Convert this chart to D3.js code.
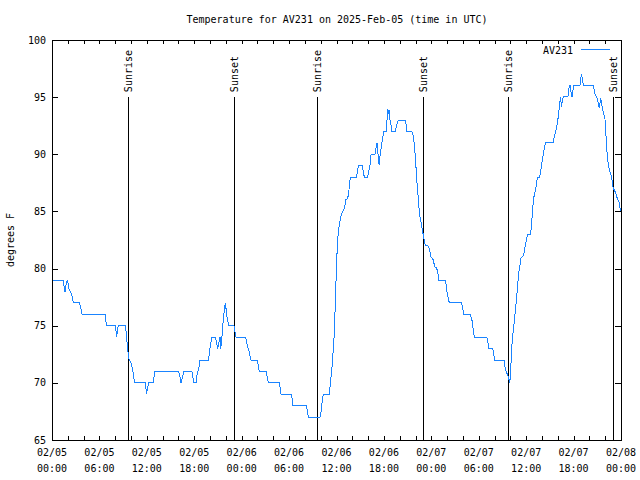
<!DOCTYPE html>
<html>
<head>
<meta charset="utf-8">
<script src="https://cdn.jsdelivr.net/npm/d3@7"></script>
<style>
  body { margin: 0; background: #fff; }
  svg text { font-family: "DejaVu Sans Mono", monospace; font-size: 10px; fill: #000; }
  svg line, svg rect, svg path { shape-rendering: crispEdges; }
</style>
</head>
<body>
<div id="vis"></div>
<script>
// hours since 2025-02-05 00:00 UTC
var hours = [
  0, 1.43, 1.5, 1.64, 1.7, 1.77, 1.94, 2.07, 2.19, 2.36, 2.49, 2.61, 2.7, 3.46, 3.63, 3.7, 3.8,
  6.71, 6.79, 6.92, 8.01, 8.1, 8.18, 8.27, 8.39, 9.28, 9.36, 9.49, 9.57, 9.66, 9.79, 9.95, 10.08,
  10.21, 10.33, 10.46, 11.81, 11.89, 11.98, 12.06, 12.23, 12.82, 12.91, 12.99, 16.03, 16.2, 16.32,
  16.53, 16.7, 17.71, 17.8, 17.97, 18.22, 18.31, 18.47, 18.64, 18.73, 19.78, 19.87, 19.99, 20.12,
  20.25, 20.67, 20.84, 20.96, 21.13, 21.26, 21.34, 21.47, 21.55, 21.68, 21.8, 21.93, 22.02, 22.1,
  22.22, 22.35, 23.03, 23.12, 23.29,
  24.51, 24.63, 24.76, 24.89, 25.01, 25.18, 25.98, 26.11, 26.23, 27.08, 27.25, 27.37, 28.77, 28.89,
  28.98, 30.28, 30.41, 30.45, 32.18, 32.31, 32.43,
  33.91, 34.04, 34.16, 34.33, 35.09, 35.22, 35.34, 35.47, 35.6, 35.72, 35.85, 35.98, 36.1, 36.23,
  36.36, 36.48, 36.61, 36.78, 37.03, 37.16, 37.41, 37.54, 37.67, 37.79, 38.55, 38.68, 38.8, 39.27,
  39.39, 39.52, 39.94, 40.07, 40.24, 40.36, 40.49, 40.87, 41.0, 41.12, 41.21, 41.29, 41.42, 41.5,
  41.63, 41.76, 41.88, 41.97, 42.35, 42.43, 42.52, 42.64, 42.77, 42.9, 43.02, 43.44, 43.57, 43.7,
  43.82, 44.67, 44.79, 44.92, 45.51, 45.64, 45.76, 45.89, 46.02, 46.14, 46.27, 46.4, 46.52, 46.65,
  46.78, 46.9, 47.03, 47.16, 47.28, 47.62, 47.79, 47.91, 48.17, 48.29, 48.42, 48.67, 48.8, 48.93,
  49.81, 49.9, 50.02, 50.15, 50.28,
  51.84, 51.96, 52.13, 52.89, 53.02, 53.19, 53.31, 53.44, 55.0, 55.13, 55.25, 55.76, 55.89, 56.01,
  57.19, 57.32, 57.45, 57.66, 57.79, 57.91, 58.04, 58.12, 58.25, 58.37, 58.5, 58.67, 58.8, 58.92,
  59.05, 59.18, 59.34, 59.51, 59.68, 59.81, 59.94, 60.06, 60.19, 60.57, 60.69, 60.82, 60.95, 61.07,
  61.2, 61.33, 61.45, 61.71, 61.83, 61.96, 62.09, 62.21, 62.34, 62.47, 63.43, 63.56, 63.73, 63.86,
  63.98, 64.11, 64.24, 64.36, 64.45, 64.57, 64.7, 65.33, 65.42, 65.54, 65.67, 65.8, 65.92, 66.01,
  66.81, 66.89, 66.98, 67.06, 67.15, 67.27, 68.5, 68.62, 68.75, 68.92, 69.05, 69.17, 69.26, 69.34,
  69.43, 69.55, 69.68, 69.85, 69.97, 70.06, 70.19, 70.31, 70.44, 70.61, 70.73, 70.86, 70.99, 71.11,
  71.32, 71.45, 71.58, 71.7, 71.83, 71.91
];

// degrees F
var temps = [
  79, 79, 78.56, 78, 78, 78.56, 79, 78.56, 78.1, 78, 77.68, 77.4, 77, 77, 76.67, 76.37, 76,
  76, 75.5, 75, 75, 74.54, 74, 74.54, 75, 75, 74.54, 73.6, 73.1, 72.3, 72, 71.85, 71.47,
  71.12, 70.54, 70, 70, 69.5, 69, 69.5, 70, 70, 70.54, 71, 71, 70.54, 70,
  70.54, 71, 71, 70.54, 70, 70, 70.54, 71, 71.5, 72, 72, 72.4, 73, 73.6,
  74, 74, 73.45, 73, 73.6, 74, 73, 73.6, 74.54, 75.5, 76.4, 77, 76.5, 75.9,
  75.5, 75, 75, 74.54, 74,
  74, 73.6, 73.1, 72.93, 72.5, 72, 72, 71.5, 71, 71, 70.5, 70, 70, 69.5,
  69, 69, 68.5, 68, 68, 67.56, 67,
  67, 67.48, 68.21, 69, 69, 69.96, 70.69, 71.71, 73.02, 74.33, 76.96, 79.87, 81.91, 83.23,
  83.81, 84.25, 84.77, 85, 85.27, 86, 86.14, 86.58, 87.6, 88, 88, 88.68, 89, 89,
  88.48, 88, 88, 88.48, 89.06, 89.93, 90, 90, 90.52, 91, 90.66, 89.5, 89.06, 89.8,
  90.43, 91.1, 91.54, 92, 92, 94, 93.58, 93.87, 93, 92.59, 92, 92, 92.42, 92.79,
  93, 93, 92.7, 92, 92, 91.83, 91.4, 90.52, 89.35, 87.89, 86.87, 85.56, 84.69, 84.25,
  83.66, 83.23, 82.79, 82.2, 82.06, 81.97, 81.62, 81.04, 80.9, 80.6, 80.17, 80.03, 79.74, 79,
  79, 78.4, 77.8, 77.36, 77,
  77, 76.52, 76, 76, 75.79, 75.35, 74.62, 74, 74, 73.75, 73, 73, 72.58, 72,
  72, 71.41, 71, 70.69, 70.39, 70, 70.83, 72.6, 73.75, 74.6, 75.4, 76.52, 77.54, 78.56,
  79.52, 80.16, 80.89, 81.04, 81.19, 81.77, 82.21, 82.64, 83, 83, 83.96, 85.27, 86.14, 86.58,
  86.93, 87.6, 88, 88, 88.48, 89.15, 89.64, 90.23, 90.66, 91, 91, 91.54, 91.98, 92.36,
  92.85, 93.58, 94.45, 95.04, 94.16, 94.6, 95.04, 95.1, 95.77, 96.06, 95.48, 95.04, 95.62, 96,
  96, 96.5, 97, 96.79, 96.35, 96, 96, 95.62, 95.18, 95.04, 94.75, 94.31, 94.02, 94.45,
  94.89, 94.45, 93.87, 93.43, 93.14, 92.12, 90.52, 89.5, 88.91, 88.48, 88.18, 87.75, 87.16, 86.93,
  86.64, 86.29, 86.06, 85.94, 85.71, 85.06
];

// sun events, hours since start
var eventHours = [9.64, 23.06, 33.57, 46.99, 57.66, 71.03];
var eventNames = ["Sunrise", "Sunset", "Sunrise", "Sunset", "Sunrise", "Sunset"];

var yTicks = [65, 70, 75, 80, 85, 90, 95, 100];
var seriesName = "AV231";
var title = "Temperature for AV231 on 2025-Feb-05 (time in UTC)";
var yTitle = "degrees F";

var t0 = Date.UTC(2025, 1, 5, 0, 0);
function toDate(h) { return new Date(t0 + h * 3600000); }

var svgW = 640, svgH = 480;
var plotL = 52, plotR = 621, plotT = 40, plotB = 440;
var lineColor = "#1a84ff";

var svg = d3.select('#vis').append('svg').attr('width', svgW).attr('height', svgH);
var g = svg.append('g');

var x = d3.scaleUtc().domain([toDate(0), toDate(72)]).range([plotL, plotR]);
var y = d3.scaleLinear().domain([65, 100]).range([plotB, plotT]);

// title
g.append('text').attr('x', 337).attr('y', 23).attr('text-anchor', 'middle').text(title);

// y axis label
g.append('text').attr('transform', 'translate(14,' + ((plotT + plotB) / 2) + ') rotate(-90)')
  .attr('text-anchor', 'middle').text(yTitle);

// y ticks, left and right
g.selectAll('.ytl').data(yTicks).enter().append('line')
  .attr('x1', plotL).attr('x2', plotL + 6)
  .attr('y1', function (d) { return Math.round(y(d)) + 0.5; })
  .attr('y2', function (d) { return Math.round(y(d)) + 0.5; })
  .attr('stroke', '#000');
g.selectAll('.ytr').data(yTicks).enter().append('line')
  .attr('x1', plotR - 6).attr('x2', plotR)
  .attr('y1', function (d) { return Math.round(y(d)) + 0.5; })
  .attr('y2', function (d) { return Math.round(y(d)) + 0.5; })
  .attr('stroke', '#000');
g.selectAll('.ylab').data(yTicks).enter().append('text')
  .attr('x', plotL - 6).attr('y', function (d) { return y(d); }).attr('dy', '0.35em')
  .attr('text-anchor', 'end').text(String);

// x ticks every 2 hours, bottom and top
var xTicks = x.ticks(d3.utcHour.every(2));
g.selectAll('.xtb').data(xTicks).enter().append('line')
  .attr('x1', function (d) { return Math.round(x(d)) + 0.5; })
  .attr('x2', function (d) { return Math.round(x(d)) + 0.5; })
  .attr('y1', plotB).attr('y2', plotB - 4).attr('stroke', '#000');
g.selectAll('.xtt').data(xTicks).enter().append('line')
  .attr('x1', function (d) { return Math.round(x(d)) + 0.5; })
  .attr('x2', function (d) { return Math.round(x(d)) + 0.5; })
  .attr('y1', plotT).attr('y2', plotT + 4).attr('stroke', '#000');

// x labels every 6 hours
var xLabels = x.ticks(d3.utcHour.every(6));
var fDay = d3.utcFormat('%m/%d'), fTime = d3.utcFormat('%H:%M');
var xl = g.selectAll('.xlab').data(xLabels).enter().append('text')
  .attr('text-anchor', 'middle')
  .attr('x', function (d) { return x(d); });
xl.append('tspan').attr('x', function (d) { return x(d); }).attr('y', plotB + 16).text(fDay);
xl.append('tspan').attr('x', function (d) { return x(d); }).attr('y', plotB + 32).text(fTime);

// sun event lines
var ev = g.selectAll('.ev').data(eventHours).enter().append('g');
ev.append('line')
  .attr('x1', function (d) { return Math.round(x(toDate(d))) + 0.5; })
  .attr('x2', function (d) { return Math.round(x(toDate(d))) + 0.5; })
  .attr('y1', y(95)).attr('y2', plotB).attr('stroke', '#000');
ev.append('text')
  .attr('transform', function (d) { return 'translate(' + (x(toDate(d)) + 4) + ',' + (y(95) - 5) + ') rotate(-90)'; })
  .attr('text-anchor', 'start')
  .text(function (d, i) { return eventNames[i]; });

// data line
var pts = hours.map(function (h, i) { return [toDate(h), temps[i]]; });
var line = d3.line().x(function (d) { return x(d[0]); }).y(function (d) { return y(d[1]); });
g.append('path').datum(pts).attr('d', line)
  .attr('fill', 'none').attr('stroke', lineColor).attr('stroke-width', 1);

// frame
g.append('rect').attr('x', plotL + 0.5).attr('y', plotT + 0.5)
  .attr('width', plotR - plotL).attr('height', plotB - plotT)
  .attr('fill', 'none').attr('stroke', '#000');

// legend
g.append('text').attr('x', 573).attr('y', 50).attr('dy', '0.35em').attr('text-anchor', 'end').text(seriesName);
g.append('line').attr('x1', 581).attr('x2', 610).attr('y1', 49.5).attr('y2', 49.5).attr('stroke', lineColor);
</script>
</body>
</html>
